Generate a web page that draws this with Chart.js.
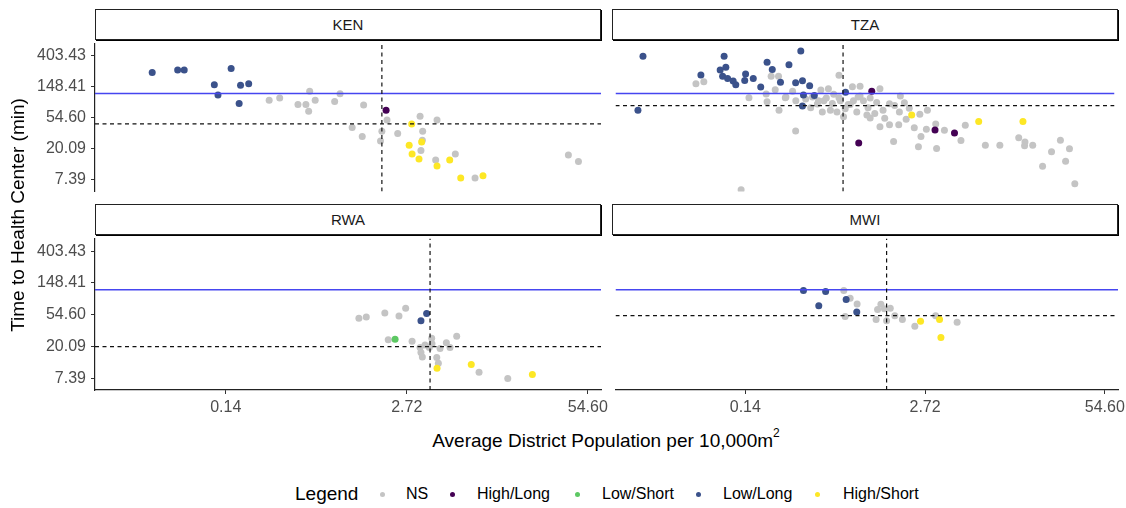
<!DOCTYPE html>
<html><head><meta charset="utf-8">
<script src="https://cdn.jsdelivr.net/npm/chart.js@4.4.1/dist/chart.umd.min.js"></script>
<style>
html,body{margin:0;padding:0;background:#fff;overflow:hidden;}
body{width:1126px;height:508px;position:relative;font-family:"Liberation Sans",Arial,sans-serif;}
.cv{position:absolute;}
.strip{position:absolute;box-sizing:border-box;border:1px solid #222;box-shadow:1px 1px 0 #000;background:#fff;font-size:15px;color:#1a1a1a;text-align:center;line-height:29px;height:31px;}
.ytitle{position:absolute;left:-132px;top:204px;width:300px;height:22px;line-height:22px;text-align:center;font-size:19px;color:#000;transform:rotate(-90deg);transform-origin:center;}
.xtitle{position:absolute;left:306px;top:424px;width:600px;text-align:center;font-size:19px;color:#000;line-height:24px;}
.xtitle sup{font-size:12px;position:relative;top:-3px;}
.lg{position:absolute;font-size:16px;color:#000;line-height:20px;top:484px;white-space:nowrap;}
.lgt{position:absolute;font-size:19px;color:#000;line-height:22px;top:483px;left:295px;}
.dot{position:absolute;width:5px;height:5px;border-radius:50%;top:491.5px;}
</style>
</head><body>
<div class="strip" style="left:95px;top:9px;width:506px;">KEN</div>
<div class="strip" style="left:612px;top:9px;width:506px;">TZA</div>
<div class="strip" style="left:95px;top:204px;width:506px;">RWA</div>
<div class="strip" style="left:612px;top:204px;width:506px;">MWI</div>
<canvas id="c0" class="cv"></canvas>
<canvas id="c1" class="cv"></canvas>
<canvas id="c2" class="cv"></canvas>
<canvas id="c3" class="cv"></canvas>
<div class="ytitle">Time to Health Center (min)</div>
<div class="xtitle">Average District Population per 10,000m<sup>2</sup></div>
<div id="legend"></div>
<script>
// ---- categories / styling keys ----
const countries = ['KEN', 'TZA', 'RWA', 'MWI'];
const groups = ['NS', 'High/Long', 'Low/Short', 'Low/Long', 'High/Short'];
const groupColors = ['#c4c4c4', '#440154', '#5DC863', '#3B528B', '#FDE725'];

// ---- tick values (labels shown with 2 decimals) ----
const xTicks = [0.1353, 2.7183, 54.598];
const yTicks = [7.389, 20.086, 54.598, 148.413, 403.429];
const xRange = [0.0155, 68];
const yRange = [5.1, 602];

// ---- reference lines ----
const timeThreshold = 120;
const popMedian = [1.80, 0.71, 4.0, 1.43];   // vertical dashed line per country
const timeMedian = [45, 81, 20, 53];         // horizontal dashed line per country

// ---- data: [population density, travel time (min)] ----
const KEN_NS = [[0.278,97],[0.331,104],[0.544,129],[0.596,97],[0.448,84],[0.511,84],[0.535,68],[0.823,93],[0.90,119],[1.33,83],[1.10,40],[1.30,30],[1.76,26],[1.80,35.5],[1.96,51],[3.39,57.5],[4.49,51],[2.34,33],[3.54,35.5],[3.52,26.6],[3.44,19.2],[6.08,17.1],[4.39,14.1],[8.43,7.9],[39.6,16.6],[46.8,13.4]];
const KEN_HighLong = [[1.93,70]];
const KEN_LowShort = [];
const KEN_LowLong = [[0.040,237],[0.061,256],[0.068,256],[0.148,268],[0.112,159],[0.173,157],[0.198,164],[0.119,114],[0.169,87]];
const KEN_HighShort = [[2.95,45],[2.83,22.6],[3.48,25.1],[2.97,17.1],[3.33,14.5],[4.49,11.6],[5.54,14.1],[6.65,7.9],[9.62,8.5]];

const TZA_NS = [[0.0599,164],[0.0684,176],[0.146,105],[0.198,92],[0.227,136],[0.240,210],[0.212,210],[0.269,105],[0.304,129],[0.320,35.8],[0.128,5.4],[0.489,134],[0.555,140],[0.663,216],[0.607,117],[0.663,105],[0.514,95],[0.461,85.8],[0.412,75.9],[0.501,66.3],[0.574,69.8],[0.641,66.3],[0.716,56.8],[0.736,73.6],[0.831,149],[0.945,152],[1.32,140],[0.845,95],[1.0,95],[1.08,75.9],[1.25,90.2],[0.894,66.3],[1.06,59.9],[1.21,63.1],[1.39,69.8],[1.43,54.1],[1.32,41],[1.55,44],[1.86,111],[1.83,66.3],[2.05,52.5],[1.81,44],[1.66,25.5],[2.35,39.8],[2.58,61.7],[2.93,69.8],[2.63,30.1],[2.52,21.5],[2.88,37.8],[3.37,45],[3.42,20.4],[3.90,36.6],[5.15,26.3],[5.54,43.1],[7.76,22.6],[9.90,22.6],[13.6,28.9],[15.0,22.2],[15.1,25.1],[17.2,22.6],[20.3,11.5],[23.6,18.4],[27.4,26.6],[29.9,13.5],[31.9,20.2],[34.9,6.53],[0.425,107],[0.536,104],[0.774,84],[0.914,107],[1.55,86.5],[1.12,54.6],[2.16,74.4],[0.195,118],[0.321,95],[0.379,101],[0.47,95],[0.593,86.7],[0.678,95],[0.80,84],[0.945,111],[1.12,104],[1.69,81.5],[1.99,89],[0.272,107],[0.242,70]];
const TZA_HighLong = [[1.15,129],[3.33,36.9],[4.62,33.7],[0.924,24.3]];
const TZA_LowShort = [];
const TZA_LowLong = [[0.0246,399],[0.0226,70],[0.0651,218],[0.0962,399],[0.090,256],[0.099,281],[0.0938,210],[0.102,195],[0.112,180],[0.117,159],[0.138,225],[0.136,183],[0.157,195],[0.178,148],[0.198,328],[0.216,260],[0.248,172],[0.286,303],[0.349,471],[0.320,170],[0.359,181],[0.405,154],[0.365,114],[0.438,113],[0.359,80],[0.740,125]];
const TZA_HighShort = [[2.25,59.9],[6.94,48.7],[14.6,48.7]];

const RWA_NS = [[1.23,48.7],[1.39,50.9],[1.89,57.5],[2.67,67.1],[2.39,52.5],[2.0,24.8],[2.97,23.6],[4.11,26.1],[5.24,22.6],[6.22,27.7],[3.39,19.4],[3.95,19.4],[4.72,18.8],[5.57,19.4],[3.44,16.6],[3.52,14.4],[4.47,14.2],[4.59,11.8],[9.01,8.9],[14.5,7.3],[4.13,21.8],[3.68,21.0]];
const RWA_HighLong = [];
const RWA_LowShort = [[2.24,25.3]];
const RWA_LowLong = [[3.78,56.8],[3.44,45]];
const RWA_HighShort = [[4.49,10.1],[7.92,11.4],[21.8,8.3]];

const MWI_NS = [[0.70,117],[0.778,92],[0.874,76.6],[0.716,51.8],[1.30,75.9],[1.23,64.2],[1.38,65.7],[1.52,67.1],[1.64,52.9],[1.20,46.8],[1.43,45],[1.86,46.8],[2.29,38.1],[3.24,52.9],[4.64,43.1]];
const MWI_HighLong = [];
const MWI_LowShort = [];
const MWI_LowLong = [[0.357,117],[0.517,113],[0.461,72.7],[0.728,88.5],[0.869,59.3]];
const MWI_HighShort = [[2.52,44.4],[3.46,46.8],[3.54,26.6]];

const panelData = {
  KEN: [KEN_NS, KEN_HighLong, KEN_LowShort, KEN_LowLong, KEN_HighShort],
  TZA: [TZA_NS, TZA_HighLong, TZA_LowShort, TZA_LowLong, TZA_HighShort],
  RWA: [RWA_NS, RWA_HighLong, RWA_LowShort, RWA_LowLong, RWA_HighShort],
  MWI: [MWI_NS, MWI_HighLong, MWI_LowShort, MWI_LowLong, MWI_HighShort]
};

// ---- layout ----
const layout = [
  {left:0,   top:40,  w:613, h:155, showX:false, showY:true,  padR:12},
  {left:612, top:40,  w:506, h:155, showX:false, showY:false, padR:0},
  {left:0,   top:235, w:613, h:185, showX:true,  showY:true,  padR:12},
  {left:612, top:235, w:518, h:185, showX:true,  showY:false, padR:12}
];

const tickFont = {family:'"Liberation Sans", Arial, sans-serif', size:16};
const fmt = v => Number(v).toFixed(2);

countries.forEach((c, i) => {
  const L = layout[i];
  const cv = document.getElementById('c' + i);
  cv.width = L.w; cv.height = L.h;
  cv.style.left = L.left + 'px'; cv.style.top = L.top + 'px';
  cv.style.width = L.w + 'px'; cv.style.height = L.h + 'px';

  const datasets = [];
  panelData[c].forEach((arr, g) => {
    if (!arr.length) return;
    datasets.push({
      label: groups[g],
      data: arr.map(p => ({x: p[0], y: p[1]})),
      backgroundColor: groupColors[g],
      borderColor: groupColors[g],
      borderWidth: 0,
      pointRadius: 3.5,
      pointHoverRadius: 3.5,
      order: g === 0 ? 10 : 5
    });
  });
  datasets.push({
    label: 'threshold',
    data: [{x: xRange[0], y: timeThreshold}, {x: xRange[1], y: timeThreshold}],
    showLine: true, borderColor: '#4646f0', backgroundColor: '#4646f0', borderWidth: 1.6, pointRadius: 0, order: 1
  });
  datasets.push({
    label: 'time median',
    data: [{x: xRange[0], y: timeMedian[i]}, {x: xRange[1], y: timeMedian[i]}],
    showLine: true, borderColor: '#111', backgroundColor: '#111', borderWidth: 1.2, borderDash: [4, 3.5], pointRadius: 0, order: 0
  });
  datasets.push({
    label: 'pop median',
    data: [{x: popMedian[i], y: yRange[0]}, {x: popMedian[i], y: yRange[1]}],
    showLine: true, borderColor: '#111', backgroundColor: '#111', borderWidth: 1.2, borderDash: [4, 3.5], pointRadius: 0, order: 0
  });

  new Chart(cv, {
    type: 'scatter',
    data: {datasets},
    options: {
      responsive: false,
      animation: false,
      devicePixelRatio: 1,
      layout: {padding: {left: 0, right: L.padR, top: 0, bottom: 0}},
      plugins: {legend: {display: false}, tooltip: {enabled: false}},
      events: [],
      scales: {
        x: {
          type: 'logarithmic', min: xRange[0], max: xRange[1], bounds: 'data',
          display: L.showX,
          afterBuildTicks: s => { s.ticks = xTicks.map(v => ({value: v})); },
          afterFit: s => { if (L.showX) { s.height = 30; } else { s.height = 0; } s.paddingLeft = 0; s.paddingRight = 0; },
          ticks: {callback: fmt, color: '#4d4d4d', font: tickFont, padding: 4, autoSkip: false, maxRotation: 0},
          grid: {drawOnChartArea: false, drawTicks: true, tickLength: 4, color: '#333', lineWidth: 1},
          border: {display: true, color: '#222', width: 1.2}
        },
        y: {
          type: 'logarithmic', min: yRange[0], max: yRange[1], bounds: 'data',
          display: L.showY,
          afterBuildTicks: s => { s.ticks = yTicks.map(v => ({value: v})); },
          afterFit: s => { if (L.showY) { s.width = 95; } else { s.width = 0; } s.paddingTop = 0; s.paddingBottom = 0; },
          ticks: {callback: fmt, color: '#4d4d4d', font: tickFont, padding: 5, autoSkip: false},
          grid: {drawOnChartArea: false, drawTicks: true, tickLength: 4, color: '#333', lineWidth: 1},
          border: {display: true, color: '#222', width: 1.2}
        }
      }
    }
  });
});

// ---- legend ----
const legendDotX = [382, 452, 577, 698, 817];
const legendTextX = [406, 477, 602, 723, 843];
const lg = document.getElementById('legend');
let html = '<div class="lgt">Legend</div>';
groups.forEach((g, k) => {
  html += '<div class="dot" style="left:' + (legendDotX[k] - 2.5) + 'px;background:' + groupColors[k] + '"></div>';
  html += '<div class="lg" style="left:' + legendTextX[k] + 'px">' + g + '</div>';
});
lg.innerHTML = html;
</script>
</body></html>
